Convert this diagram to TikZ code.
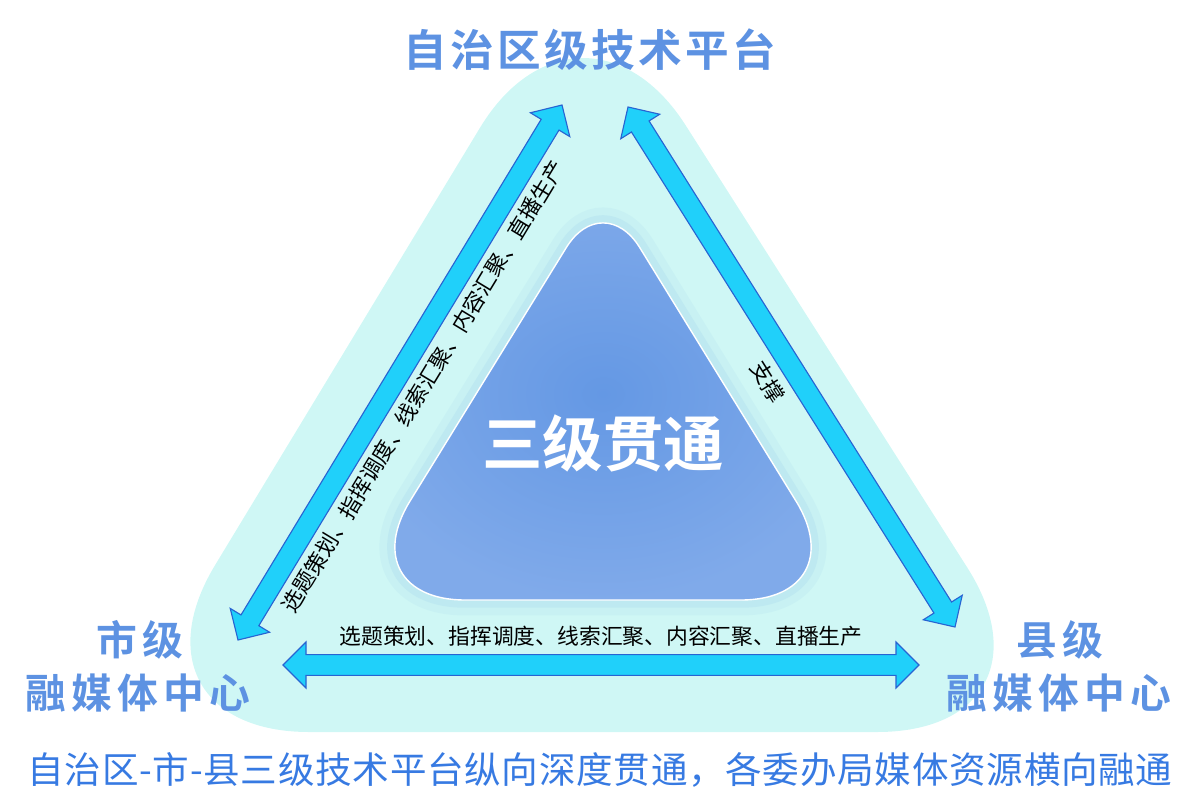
\documentclass[tikz,border=0pt]{standalone}
\usepackage{fontspec}
\setmainfont{Noto Sans CJK SC}[BoldFont={Noto Sans CJK SC Bold}]
\usetikzlibrary{calc, positioning}

\definecolor{bgcyan}{RGB}{207,247,245}
\definecolor{titleblue}{RGB}{93,146,226}
\definecolor{capblue}{RGB}{55,122,226}
\definecolor{arrowfill}{RGB}{32,208,250}
\definecolor{arrowline}{RGB}{40,100,210}
\definecolor{coreinner}{RGB}{100,152,228}
\definecolor{coreouter}{RGB}{128,170,234}
\definecolor{glowc}{RGB}{150,205,235}

\begin{document}
\begin{tikzpicture}[x = 0.025cm, y = -0.025cm,
        title/.style = {font=\bfseries\fontsize{31}{36}\selectfont\addfontfeature{LetterSpace=8}, text=titleblue},
        tier/.style = {font=\bfseries\fontsize{29}{34}\selectfont\addfontfeature{LetterSpace=13}, text=titleblue},
        core/.style = {font=\bfseries\fontsize{43}{50}\selectfont, text=white},
        note/.style = {font=\fontsize{15.5}{18}\selectfont, text=black, inner sep=0pt},
        slogan/.style = {font=\fontsize{26}{30}\selectfont\addfontfeature{LetterSpace=2}, text=capblue},
        fat/.style = {fill=arrowfill, draw=arrowline, line width=0.8pt, line join=miter,
                to path={
                -- ($(\tikztostart)!0.575cm!(\tikztotarget)!0.575cm!90:(\tikztotarget)$)
                -- ($(\tikztostart)!0.575cm!(\tikztotarget)!0.26cm!90:(\tikztotarget)$)
                -- ($(\tikztotarget)!0.575cm!(\tikztostart)!0.26cm!-90:(\tikztostart)$)
                -- ($(\tikztotarget)!0.575cm!(\tikztostart)!0.575cm!-90:(\tikztostart)$)
                -- (\tikztotarget)
                -- ($(\tikztotarget)!0.575cm!(\tikztostart)!0.575cm!90:(\tikztostart)$)
                -- ($(\tikztotarget)!0.575cm!(\tikztostart)!0.26cm!90:(\tikztostart)$)
                -- ($(\tikztostart)!0.575cm!(\tikztotarget)!0.26cm!-90:(\tikztotarget)$)
                -- ($(\tikztostart)!0.575cm!(\tikztotarget)!0.575cm!-90:(\tikztotarget)$)
                -- cycle}}]
                \useasboundingbox (0, 0) rectangle (1200, 796);

                \fill[bgcyan, rounded corners=4.875cm] (593, 732) -- (114, 732) -- (581, -39) -- (1072, 732) -- cycle;

                \coordinate (ib) at (603, 600);
                \coordinate (il) at (349, 600);
                \coordinate (it) at (603, 188);
                \coordinate (ir) at (857, 600);
                \draw[glowc, line width=22pt, opacity=.12] (ib) [rounded corners=2.9cm] -- (il) [rounded corners=1.75cm] -- (it) [rounded corners=2.9cm] -- (ir) -- cycle;
                \draw[glowc, line width=11pt, opacity=.2] (ib) [rounded corners=2.9cm] -- (il) [rounded corners=1.75cm] -- (it) [rounded corners=2.9cm] -- (ir) -- cycle;
                \shadedraw[inner color=coreinner, outer color=coreouter, draw=white, line width=1pt] (ib) [rounded corners=2.9cm] -- (il) [rounded corners=1.75cm] -- (it) [rounded corners=2.9cm] -- (ir) -- cycle;
                \node[core] at (603, 443) (three) {三级贯通};

                \coordinate (lb) at (238, 640);
                \coordinate (lt) at (562, 105);
                \coordinate (rt) at (628, 107);
                \coordinate (rb) at (955, 627);
                \coordinate (bl) at (283, 665);
                \coordinate (br) at (919, 665);
                \draw[fat] (lb) to (lt);
                \draw[fat] (rt) to (rb);
                \draw[fat] (bl) to (br);

                \node[note, rotate=58.8] at ($(lb)!0.5!(lt)!0.675cm!-90:(lt)$) (lefttxt) {选题策划、指挥调度、线索汇聚、内容汇聚、直播生产};
                \node[note, rotate=-57.8] at ($(rt)!0.5!(rb)!0.7cm!-90:(rb)$) (righttxt) {支撑};
                \node[note] at ($(bl)!0.5!(br)!0.725cm!90:(br)$) (bottomtxt) {选题策划、指挥调度、线索汇聚、内容汇聚、直播生产};

                \node[title] at (590, 50) (region) {自治区级技术平台};
                \node[tier] at (140, 640) (city) {市级};
                \node[tier] at (138, 693) (cityhub) {融媒体中心};
                \node[tier] at (1060, 640) (county) {县级};
                \node[tier] at (1059, 693) (countyhub) {融媒体中心};
                \node[slogan] at (600, 770) (motto) {自治区-市-县三级技术平台纵向深度贯通，各委办局媒体资源横向融通};
\end{tikzpicture}
\end{document}
